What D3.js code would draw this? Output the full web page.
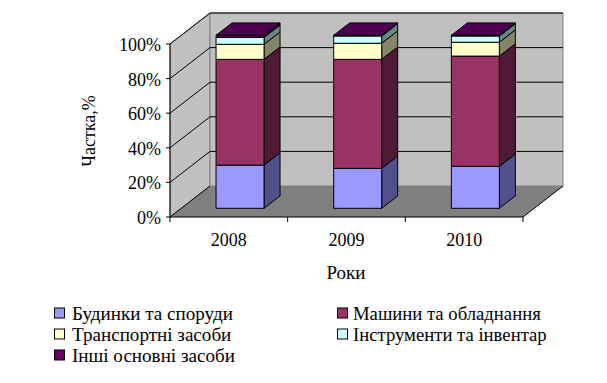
<!DOCTYPE html>
<html>
<head>
<meta charset="utf-8">
<script src="https://cdn.jsdelivr.net/npm/d3@7"></script>
<style>
html, body { margin: 0; padding: 0; background: #fff; }
svg { display: block; }
text { font-family: 'Liberation Serif', serif; fill: #000; }
</style>
</head>
<body>
<script>
var years = ['2008', '2009', '2010'];
var seriesNames = ['Будинки та споруди', 'Машини та обладнання', 'Транспортні засоби', 'Інструменти та інвентар', 'Інші основні засоби'];
var buildings = [25.0, 23.1, 24.3];
var machines = [61.1, 63.0, 63.7];
var transport = [8.7, 9.3, 8.0];
var tools = [4.0, 4.2, 3.6];
var other = [1.2, 0.4, 0.4];
var yTicks = [0, 20, 40, 60, 80, 100];
var yTitle = 'Частка,%';
var xTitle = 'Роки';

var frontColors = ['#9999ff', '#993366', '#ffffcc', '#ccffff', '#660066'];
var sideColors = ['#50508a', '#4f1a36', '#85856a', '#6a8585', '#3d003d'];
var topColors = ['#7a7acc', '#7a2952', '#ccccA3', '#a3cccc', '#4d0050'];

var width = 607;
var height = 383;
var depthX = 40;
var depthY = -31;
var barWidth = 48;
var barDepthStart = 0.28;
var barDepthEnd = 0.68;

var svg = d3.select('body').append('svg')
	.attr('width', width)
	.attr('height', height);

var xScale = d3.scaleBand()
	.domain(years)
	.range([170, 523]);

var yScale = d3.scaleLinear()
	.domain([0, 100])
	.range([217, 44]);

// depth goes 0 (front) to 1 (back wall)
function px(x, z) {
	return x + z * depthX;
}

function py(v, z) {
	return yScale(v) + z * depthY;
}

function poly(points, fill, stroke, strokeWidth) {
	svg.append('path')
		.attr('d', d3.line()(points) + 'Z')
		.attr('fill', fill)
		.attr('stroke', stroke)
		.attr('stroke-width', strokeWidth || 1)
		.attr('stroke-linejoin', 'round');
}

function seg(a, b, stroke, strokeWidth) {
	svg.append('line')
		.attr('x1', a[0]).attr('y1', a[1])
		.attr('x2', b[0]).attr('y2', b[1])
		.attr('stroke', stroke)
		.attr('stroke-width', strokeWidth || 1);
}

var x0 = xScale.range()[0];
var x1 = xScale.range()[1];

// walls and floor
poly([[px(x0, 0), py(0, 0)], [px(x0, 0), py(100, 0)], [px(x0, 1), py(100, 1)], [px(x0, 1), py(0, 1)]], '#c0c0c0', '#808080');
poly([[px(x0, 1), py(0, 1)], [px(x0, 1), py(100, 1)], [px(x1, 1), py(100, 1)], [px(x1, 1), py(0, 1)]], '#c0c0c0', '#808080');
poly([[px(x0, 0), py(0, 0)], [px(x0, 1), py(0, 1)], [px(x1, 1), py(0, 1)], [px(x1, 0), py(0, 0)]], '#808080', 'none');

// gridlines along the side wall and back wall
yTicks.forEach(function(t) {
	seg([px(x0, 0), py(t, 0)], [px(x0, 1), py(t, 1)], '#000');
	if (t > 0) {
		seg([px(x0, 1), py(t, 1)], [px(x1, 1), py(t, 1)], '#000');
	}
});
seg([px(x1, 0), py(0, 0)], [px(x1, 1), py(0, 1)], '#000');

// axes
seg([x0, yScale(0)], [x0, yScale(100)], '#000');
seg([x0, yScale(0)], [x1, yScale(0)], '#000');
yTicks.forEach(function(t) {
	seg([x0 - 4, yScale(t)], [x0, yScale(t)], '#000');
	svg.append('text')
		.attr('x', 161)
		.attr('y', yScale(t) + 7)
		.attr('text-anchor', 'end')
		.attr('font-size', 18)
		.text(t + '%');
});
years.concat(['end']).forEach(function(y, i) {
	var tx = x0 + i * xScale.bandwidth();
	seg([tx, yScale(0)], [tx, yScale(0) + 5], '#000');
});
years.forEach(function(y) {
	svg.append('text')
		.attr('x', xScale(y) + xScale.bandwidth() / 2)
		.attr('y', 246)
		.attr('text-anchor', 'middle')
		.attr('font-size', 18)
		.text(y);
});

// bars
var rows = years.map(function(y, i) {
	return {year: y, s0: buildings[i], s1: machines[i], s2: transport[i], s3: tools[i], s4: other[i]};
});
var stack = d3.stack().keys(['s0', 's1', 's2', 's3', 's4'])(rows);

years.forEach(function(y, i) {
	var xa = px(xScale(y) + (xScale.bandwidth() - barWidth) / 2, barDepthStart);
	var xb = xa + barWidth;
	var zd = barDepthEnd - barDepthStart;
	stack.forEach(function(layer, k) {
		var v0 = layer[i][0];
		var v1 = layer[i][1];
		var ya = py(v0, barDepthStart);
		var yb = py(v1, barDepthStart);
		// side face
		poly([[xb, ya], [xb, yb], [xb + zd * depthX, yb + zd * depthY], [xb + zd * depthX, ya + zd * depthY]], sideColors[k], '#000');
		// front face
		poly([[xa, ya], [xa, yb], [xb, yb], [xb, ya]], frontColors[k], '#000');
		if (k === stack.length - 1) {
			poly([[xa, yb], [xb, yb], [xb + zd * depthX, yb + zd * depthY], [xa + zd * depthX, yb + zd * depthY]], topColors[k], '#000');
		}
	});
});

// axis titles
svg.append('text')
	.attr('transform', 'translate(95,131) rotate(-90)')
	.attr('text-anchor', 'middle')
	.attr('font-size', 18)
	.text(yTitle);
svg.append('text')
	.attr('x', 346)
	.attr('y', 279)
	.attr('text-anchor', 'middle')
	.attr('font-size', 19)
	.text(xTitle);

// legend
var legendX = d3.scalePoint().domain([0, 1]).range([54, 337]);
var legendY = d3.scalePoint().domain([0, 1, 2]).range([320, 362]);

seriesNames.forEach(function(name, k) {
	var col = k % 2;
	var row = Math.floor(k / 2);
	svg.append('rect')
		.attr('x', legendX(col) + 0.5)
		.attr('y', legendY(row) - 12)
		.attr('width', 10)
		.attr('height', 10)
		.attr('fill', frontColors[k])
		.attr('stroke', '#000');
	svg.append('text')
		.attr('x', legendX(col) + (col ? 16 : 18))
		.attr('y', legendY(row))
		.attr('font-size', col ? 18.7 : 19.1)
		.text(name);
});
</script>
</body>
</html>
